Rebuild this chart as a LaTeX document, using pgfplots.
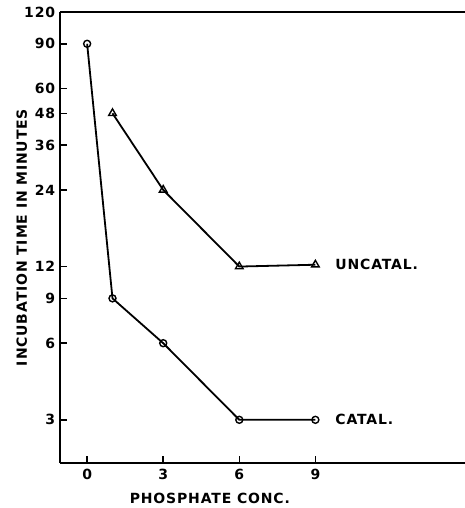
\documentclass[border=0pt]{standalone}
\usepackage{fontspec}
\setmainfont{DejaVu Sans}[LetterSpace=6]
\usepackage{pgfplots}
\pgfplotsset{compat=1.18}
\begin{document}
\begin{tikzpicture}
\fontsize{14pt}{16pt}\selectfont
\begin{axis}[
  scale only axis,
  width=405pt, height=451pt,
  ymode=log,
  xmin=-1.07, xmax=14.9,
  ymin=2.03, ymax=120,
  axis x line*=box, axis y line*=left,
  xtick pos=bottom, ytick pos=left,
  xtick={0,3,6,9},
  ytick={3,6,9,12,24,36,48,60,90,120},
  yticklabels={3,6,9,12,24,36,48,60,90,120},
  minor ytick={}, minor xtick={},
  tick align=inside,
  major tick length=7pt,
  axis line style={line width=2pt},
  tick style={line width=1.5pt, black},
  /pgf/number format/assume math mode=true,
  ticklabel style={font=\fontsize{14pt}{16pt}\selectfont\bfseries},
  xticklabel style={yshift=-1pt},
  yticklabel style={xshift=0pt},
  xlabel={PHOSPHATE CONC.},
  ylabel={INCUBATION TIME IN MINUTES},
  label style={font=\fontsize{14pt}{16pt}\selectfont\bfseries},
  xlabel style={at={(axis description cs:0.37,0)}, anchor=north, yshift=-25pt},
  ylabel style={at={(axis description cs:0,0.5)}, anchor=south, yshift=28pt},
  clip=false,
]
\addplot[black, line width=1.8pt, mark=o, mark size=3.5pt, mark options={line width=1.4pt, fill=white}]
  coordinates {(0,90) (1,9) (3,6) (6,3) (9,3)};
\addplot[black, line width=1.8pt, mark=triangle, mark size=4.4pt, mark options={line width=1.4pt, fill=white}]
  coordinates {(1,48) (3,24) (6,12) (9,12.2)};
\node[anchor=west, font=\fontsize{14pt}{16pt}\selectfont\bfseries] at (axis cs:9.6,12.2) {UNCATAL.};
\node[anchor=west, font=\fontsize{14pt}{16pt}\selectfont\bfseries] at (axis cs:9.6,3) {CATAL.};
\end{axis}
\pgfresetboundingbox
\path[use as bounding box] (-60pt,-45pt) rectangle (405pt,463pt);
\end{tikzpicture}
\end{document}
